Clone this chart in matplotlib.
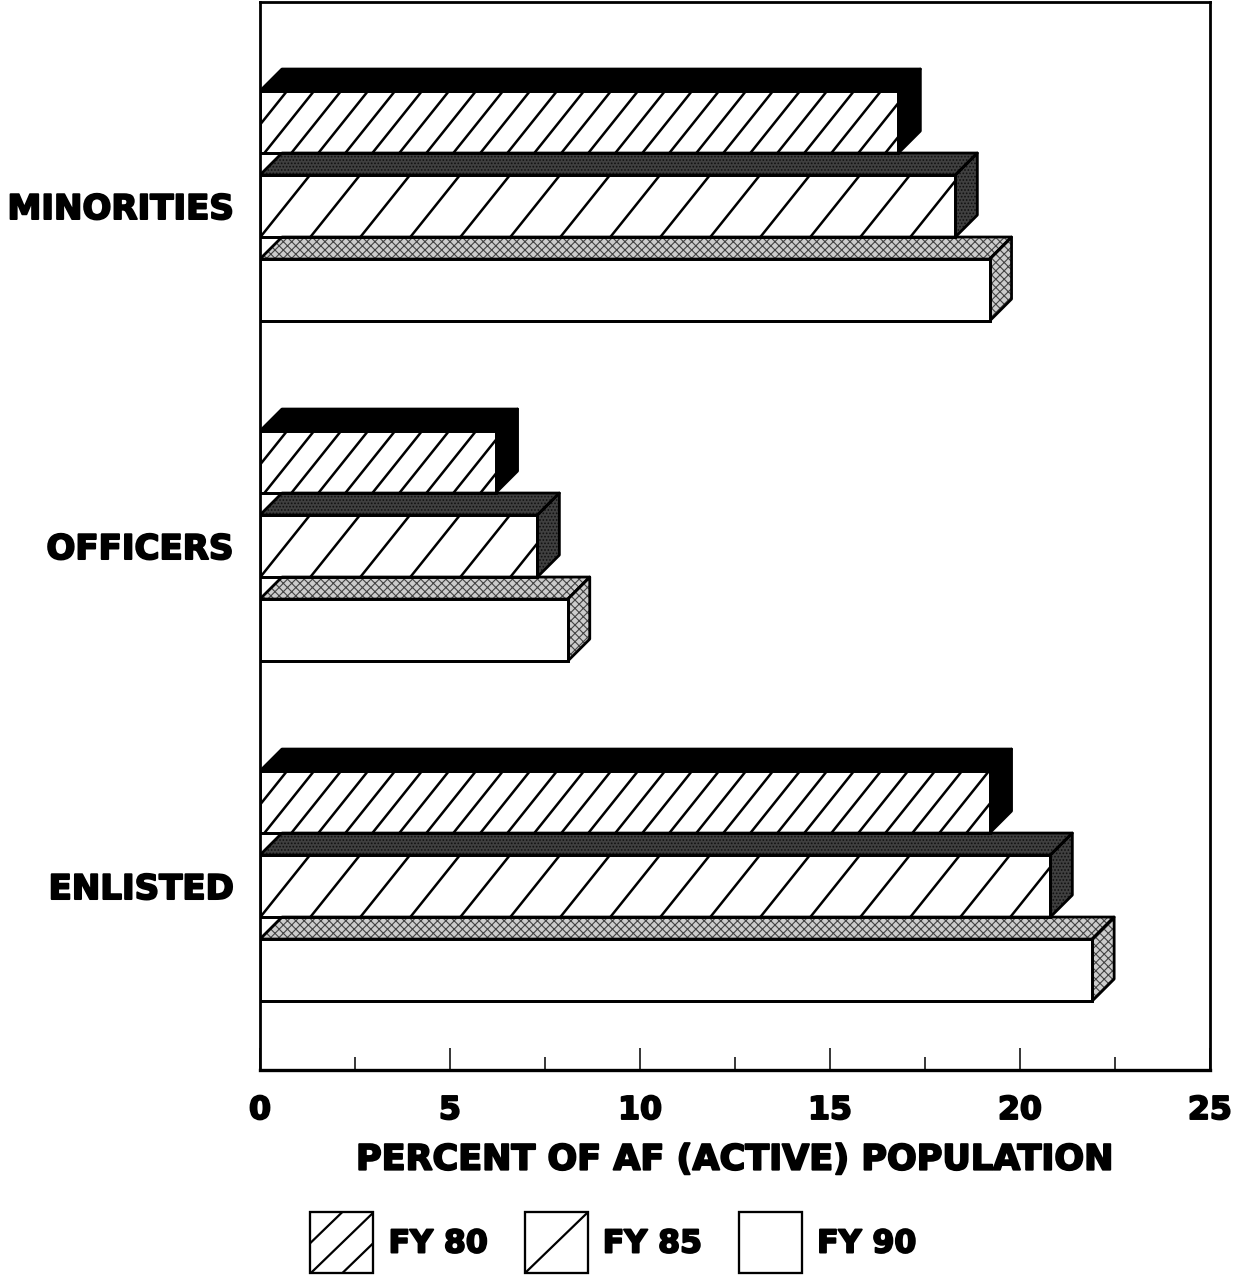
import matplotlib
matplotlib.use('Agg')
import matplotlib.pyplot as plt
import matplotlib.patheffects as pe
import numpy as np
from matplotlib.patches import Polygon, Rectangle, Patch
from matplotlib.lines import Line2D
from matplotlib.legend_handler import HandlerBase

# values (percent of AF active population)
groups = ['MINORITIES', 'OFFICERS', 'ENLISTED']
years = ['FY 80', 'FY 85', 'FY 90']
fy80 = [16.8, 6.2, 19.2]
fy85 = [18.3, 7.3, 20.8]
fy90 = [19.2, 8.1, 21.9]
series = [fy80, fy85, fy90]

x_ticks = [0, 5, 10, 15, 20, 25]
x_label = 'PERCENT OF AF (ACTIVE) POPULATION'

plt.rcParams['font.family'] = ['DejaVu Sans']
plt.rcParams['font.weight'] = 'bold'
plt.rcParams['hatch.linewidth'] = 0.8

# heavier look for the bold text
heavy = [pe.withStroke(linewidth=1.4, foreground='black')]

fig = plt.figure(figsize=(12.35, 12.83), dpi=100)
ax = fig.add_axes([0.2105, 0.16602, 0.7692, 0.8324])
ax.set_xlim(0, 25)
ax.set_ylim(2.541, -0.6)

# conversion of pixel sizes into data units (axes is 950 x 1068 px)
px_x = 25 / 950
px_y = (2.541 + 0.6) / 1068

bar_off = [-84 * px_y, 0, 84 * px_y]
bar_h = 62 * px_y
dx = 22 * px_x
dy = 22 * px_y

# per series styling: hatch spacing (px) of the front face, texture of top/side
hatch_gap = [27, 50, None]
top_style = [
    dict(facecolor='black', edgecolor='black', hatch=None),
    dict(facecolor='#404040', edgecolor='#111111', hatch='.....'),
    dict(facecolor='#cccccc', edgecolor='#444444', hatch='xxxx'),
]
lw = 2.0


def draw_bar(ax, yc, v, k):
    yt = yc - bar_h / 2
    yb = yc + bar_h / 2
    st = top_style[k]
    top = [(0, yt), (dx, yt - dy), (v + dx, yt - dy), (v, yt)]
    side = [(v, yt), (v + dx, yt - dy), (v + dx, yb - dy), (v, yb)]
    for pts in (top, side):
        ax.add_patch(Polygon(pts, closed=True, facecolor=st['facecolor'],
                             edgecolor=st['edgecolor'], hatch=st['hatch'],
                             linewidth=0, zorder=2))
        ax.add_patch(Polygon(pts, closed=True, fill=False, edgecolor='black',
                             linewidth=lw, joinstyle='round', zorder=3))
    front = Rectangle((0, yt), v, bar_h, facecolor='white', edgecolor='black',
                      linewidth=lw, joinstyle='miter', zorder=3)
    ax.add_patch(front)
    gap = hatch_gap[k]
    if gap is not None:
        shift = 0.8 * 62 * px_x
        xb = -shift
        while xb < v:
            ln, = ax.plot([xb, xb + shift], [yb, yt], color='black',
                          linewidth=1.8, zorder=3.5, solid_capstyle='butt')
            ln.set_clip_path(front)
            xb += gap * px_x
    # outline again on top of the hatch
    ax.add_patch(Rectangle((0, yt), v, bar_h, fill=False, edgecolor='black',
                           linewidth=lw, joinstyle='miter', zorder=4))


for k, vals in enumerate(series):
    for g, v in enumerate(vals):
        draw_bar(ax, g + bar_off[k], v, k)

# axes styling
for s in ax.spines.values():
    s.set_linewidth(2.0)
ax.spines['bottom'].set_linewidth(2.4)
ax.set_xticks(x_ticks)
ax.set_xticks(np.arange(2.5, 25, 5), minor=True)
ax.tick_params(axis='x', which='major', direction='in', length=16, width=1.1,
               pad=18, labelsize=22.7)
ax.tick_params(axis='x', which='minor', direction='in', length=9.5, width=1.1)
ax.set_yticks(range(len(groups)), groups)
ax.tick_params(axis='y', length=0, pad=19, labelsize=24.5)
ax.set_xlabel(x_label, fontsize=25.2, fontweight='bold', labelpad=12)
for t in ax.get_xticklabels() + ax.get_yticklabels() + [ax.xaxis.label]:
    t.set_path_effects(heavy)


class HatchBox(HandlerBase):
    def __init__(self, offsets):
        super().__init__()
        self.offsets = offsets

    def create_artists(self, legend, orig_handle, xdescent, ydescent,
                       width, height, fontsize, trans):
        x0, y0 = -xdescent, -ydescent
        box = Rectangle((x0, y0), width, height, facecolor='white',
                        edgecolor='black', linewidth=1.5, transform=trans)
        arts = [box]
        for c in self.offsets:
            ln = Line2D([x0 + c * width, x0 + c * width + width],
                        [y0, y0 + height], color='black', linewidth=1.6,
                        transform=trans)
            ln.set_clip_path(box)
            arts.append(ln)
        edge = Rectangle((x0, y0), width, height, fill=False,
                         edgecolor='black', linewidth=1.6, transform=trans)
        arts.append(edge)
        return arts


handles = [Patch(label=y) for y in years]
hmap = {handles[0]: HatchBox([-0.5, 0.0, 0.5]),
        handles[1]: HatchBox([0.0]),
        handles[2]: HatchBox([])}
leg = fig.legend(handles=handles, handler_map=hmap, loc='center',
                 bbox_to_anchor=(0.4966, 0.0312), ncol=3, frameon=False,
                 prop={'size': 22.7, 'weight': 'bold'}, handlelength=2.0,
                 handleheight=2.6, handletextpad=0.48, columnspacing=1.17,
                 borderpad=0, borderaxespad=0)
for t in leg.get_texts():
    t.set_path_effects(heavy)

fig.savefig('out.png', dpi=100)
